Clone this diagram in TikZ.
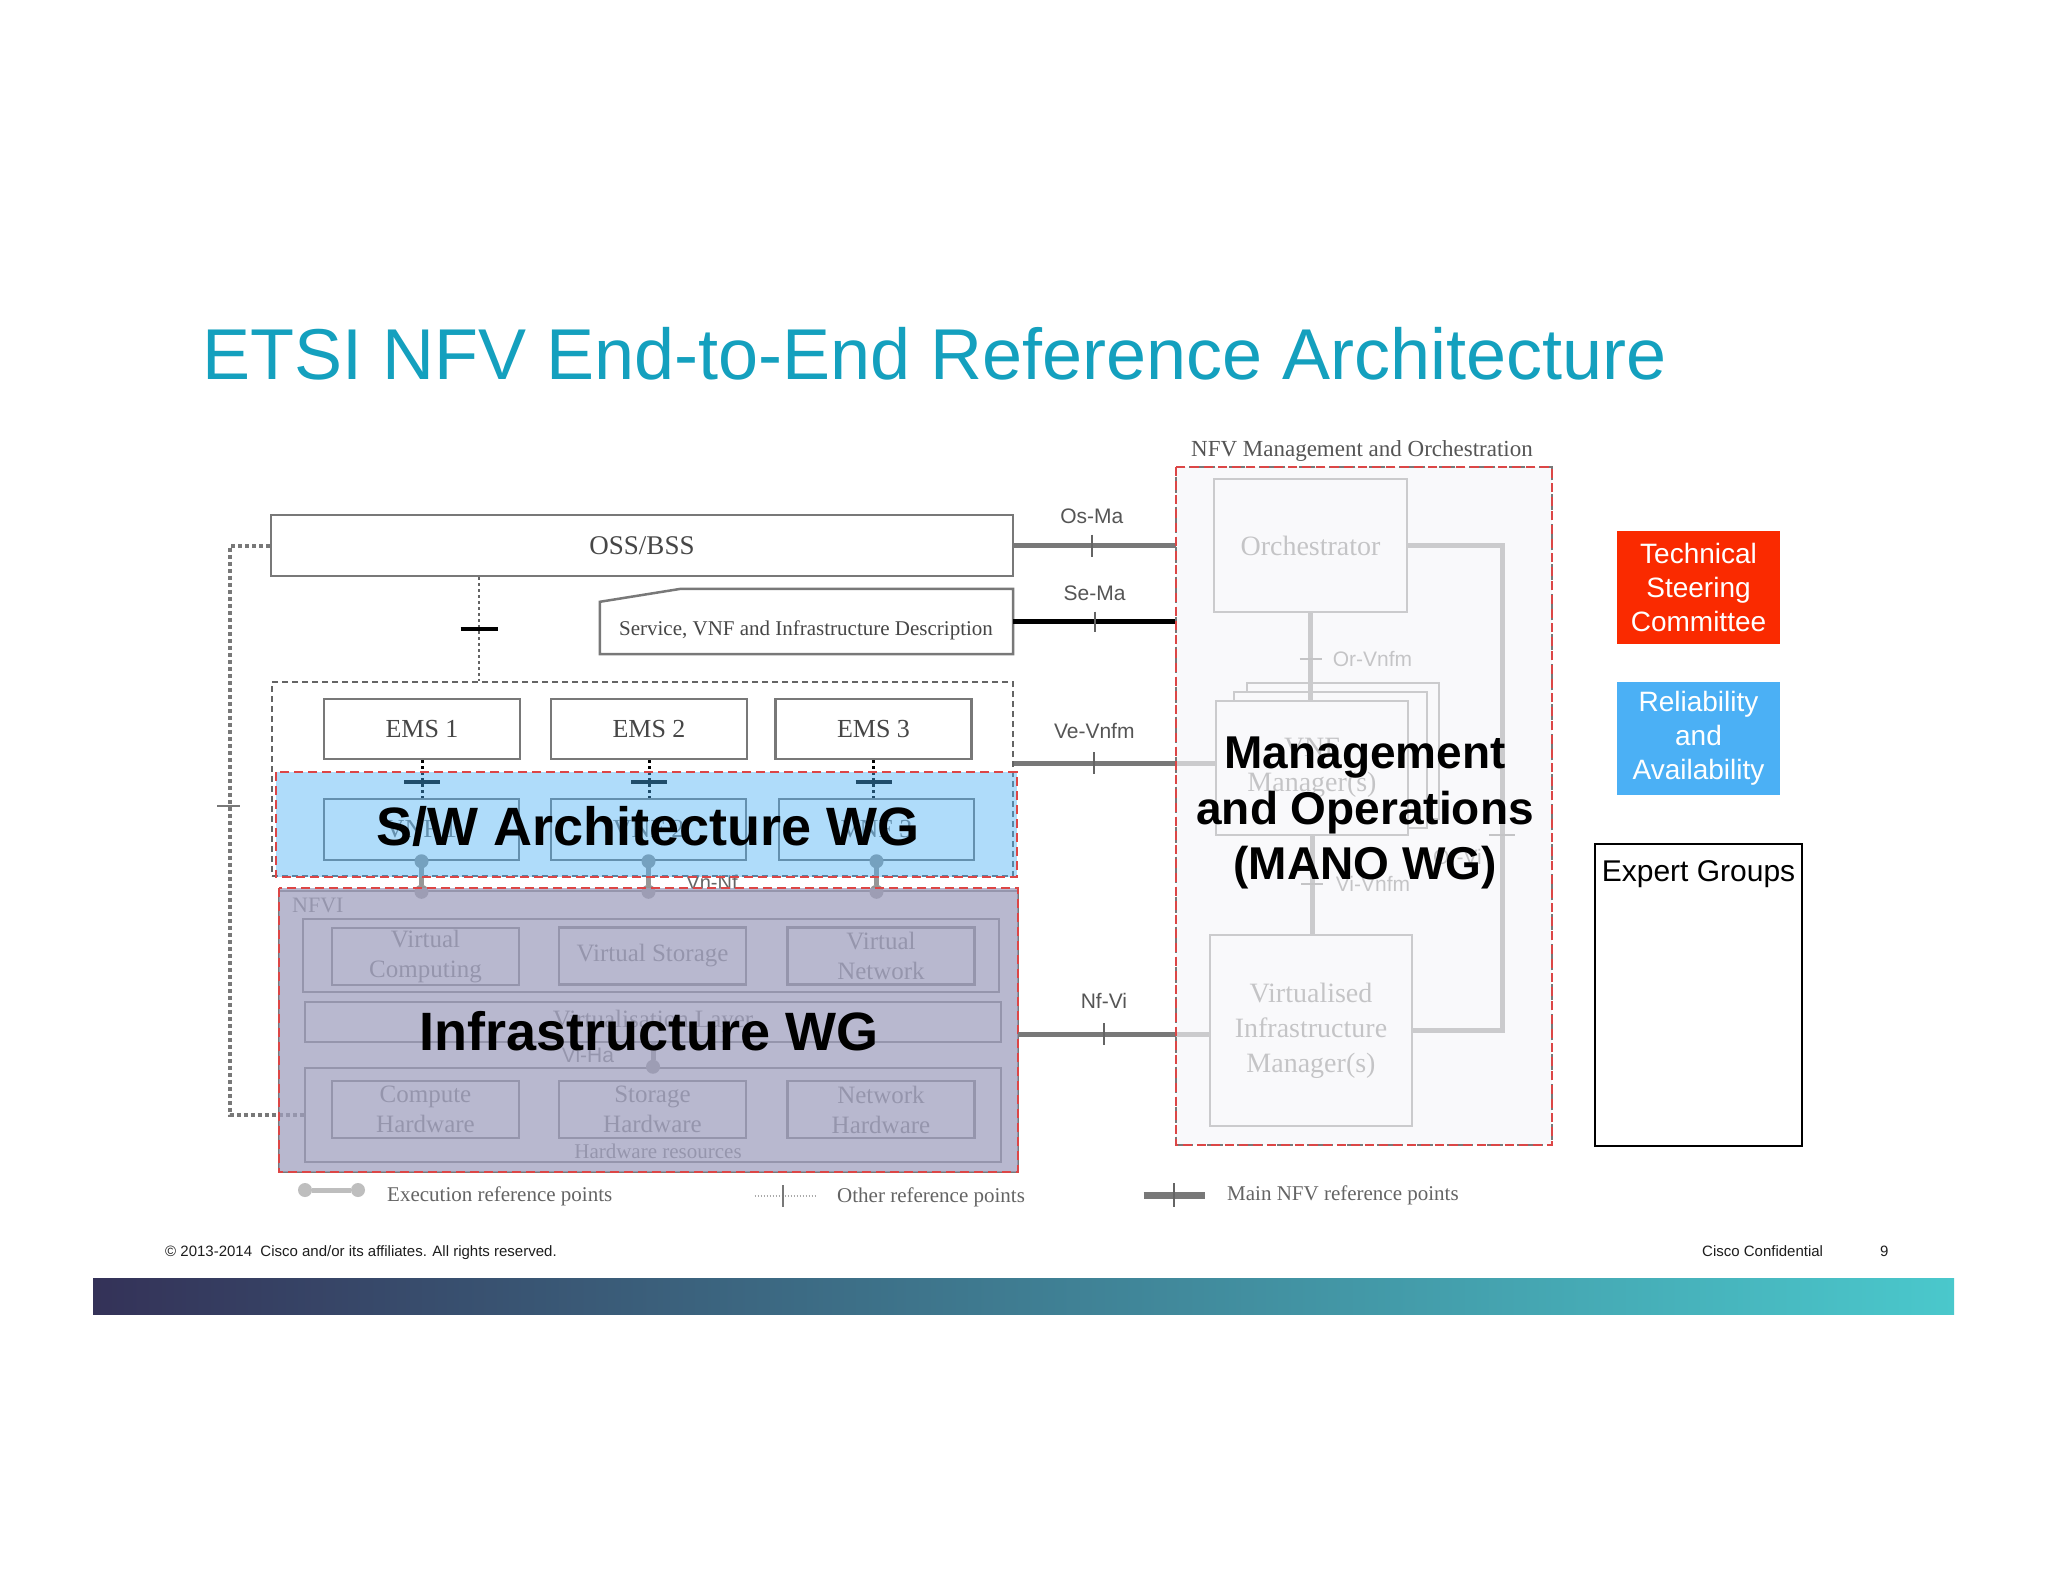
\documentclass[tikz,border=0pt]{standalone}
\usepackage{fontspec}
\setmainfont{Liberation Serif}
\newfontfamily\arialf{Liberation Sans}
\usetikzlibrary{calc}
\definecolor{titleblue}{RGB}{20,160,190}
\definecolor{g120}{RGB}{120,120,120}
\definecolor{g100}{RGB}{100,100,100}
\definecolor{g85}{RGB}{85,85,85}
\definecolor{g70}{RGB}{70,70,70}
\definecolor{g150}{RGB}{150,150,150}
\definecolor{g170}{RGB}{170,170,170}
\definecolor{g190}{RGB}{190,190,190}
\definecolor{reddashc}{RGB}{220,70,70}
\definecolor{swblue}{RGB}{75,176,244}
\definecolor{infrafill}{RGB}{160,160,191}
\definecolor{manofill}{RGB}{247,247,250}
\definecolor{tscred}{RGB}{250,42,0}
\definecolor{rablue}{RGB}{75,176,245}
\definecolor{barL}{RGB}{52,50,88}
\definecolor{barR}{RGB}{74,200,204}
\definecolor{foot}{RGB}{30,30,30}
\pgfdeclarehorizontalshading{barshade}{100bp}{color(0bp)=(barL); color(25bp)=(barL); color(75bp)=(barR); color(100bp)=(barR)}
\begin{document}
\begin{tikzpicture}[x=1pt,y=-1pt,
  sbox/.style={draw=g120, line width=2.5, fill=white, inner sep=0, text=g70},
  gbox/.style={draw=g120, line width=2.5, inner sep=0, text=g120, align=center,
    font=\fontsize{25}{30}\selectfont},
  mbox/.style={draw=g120, line width=2.5, fill=white, inner sep=0, text=g100, align=center,
    font=\fontsize{28}{35}\selectfont},
  region/.style={inner sep=0},
  execpt/.style={circle, fill=g150, inner sep=0, minimum size=14},
  execline/.style={g150, line width=5},
  mainline/.style={g120, line width=5},
  mline/.style={g120, line width=5},
  tickline/.style={g100, line width=2},
  reddash/.style={draw=reddashc, line width=2, dash pattern=on 9 off 5},
  reflab/.style={inner sep=0, text=g85, font=\arialf\fontsize{21}{25}\selectfont},
  legtext/.style={inner sep=0, anchor=west, text=g100, font=\fontsize{21}{25}\selectfont},
  bigwg/.style={inner sep=0, anchor=base, text=black, font=\arialf\bfseries\fontsize{54}{60}\selectfont},
  manowg/.style={inner sep=0, anchor=base, text=black, font=\arialf\bfseries\fontsize{46}{54}\selectfont},
  sidebox/.style={minimum width=163, minimum height=113, inner sep=0, text=white, align=center,
    font=\arialf\fontsize{28}{34}\selectfont},
  foottext/.style={inner sep=0, anchor=base west, text=foot, font=\arialf\fontsize{15}{18}\selectfont}
]
\useasboundingbox (0,0) rectangle (2048,1582);
\fill[white] (0,0) rectangle (2048,1582);

% title
\node[anchor=base west, inner sep=0, text=titleblue, font=\arialf\fontsize{72}{86}\selectfont] (title) at (202,379) {ETSI NFV End-to-End Reference Architecture};

% region nodes (invisible)
\node[region, minimum width=741, minimum height=105] (swwg) at (646.5,824.5) {};
\node[region, minimum width=739, minimum height=284] (nfvi) at (648.5,1030) {};
\node[region, minimum width=376, minimum height=678] (mano) at (1364,806) {};

% OSS/BSS and description
\node[sbox, minimum width=742, minimum height=61, font=\fontsize{27}{32}\selectfont] (oss) at (642,545.5) {OSS/BSS};
\node[region, minimum width=413, minimum height=65] (desc) at (806.5,621.5) {};
\draw[g120, line width=2.5, fill=white] (desc.south west) -- ([yshift=-13]desc.north west) -- ([xshift=81]desc.north west) -- (desc.north east) -- (desc.south east) -- cycle;
\node[inner sep=0, text=g70, font=\fontsize{21}{25}\selectfont] (desctext) at (806,630) {Service, VNF and Infrastructure Description};

% EMS area
\node[region, draw=g100, line width=2, dash pattern=on 6 off 4, minimum width=741, minimum height=194] (emsarea) at (642.5,779) {};
\node[sbox, minimum width=196, minimum height=60, font=\fontsize{26}{30}\selectfont] (ems1) at (422,729) {EMS 1};
\node[sbox, minimum width=196, minimum height=60, font=\fontsize{26}{30}\selectfont] (ems2) at (649,729) {EMS 2};
\node[sbox, minimum width=196, minimum height=60, font=\fontsize{26}{30}\selectfont] (ems3) at (873.5,729) {EMS 3};
\node[sbox, minimum width=195, minimum height=61, text=g120, font=\fontsize{26}{30}\selectfont] (vnf1) at (421.5,829.5) {VNF 1};
\node[sbox, minimum width=195, minimum height=61, text=g120, font=\fontsize{26}{30}\selectfont] (vnf2) at (648.5,829.5) {VNF 2};
\node[sbox, minimum width=195, minimum height=61, text=g120, font=\fontsize{26}{30}\selectfont] (vnf3) at (876.5,829.5) {VNF 3};

% OSS -> EMS area
\coordinate (ossx) at (479,0);
\draw[g100, line width=2, dash pattern=on 3 off 3] (oss.south -| ossx) -- coordinate[pos=0.5] (osst) (emsarea.north -| ossx);
\draw[black, line width=4] ([xshift=-18.5]osst) -- ([xshift=18.5]osst);

% EMS -> VNF
\foreach \i in {1,2,3} {
  \draw[black, line width=3, dash pattern=on 3 off 3] (ems\i.south) -- coordinate[pos=0.575] (et\i) (ems\i.south |- vnf\i.north);
  \draw[black, line width=4] ([xshift=-18]et\i) -- ([xshift=18]et\i);
}

% NFVI underlying drawing
\node[gbox, minimum width=739, minimum height=281] (nfviorig) at (648.5,1031.5) {};
\node[inner sep=0, anchor=west, text=g120, font=\fontsize{22}{26}\selectfont] (nfvilab) at (292,905) {NFVI};
\node[gbox, minimum width=696, minimum height=73] (vrow) at (651,955.5) {};
\node[gbox, minimum width=187, minimum height=57] (vc) at (425.5,956.5) {Virtual\\Computing};
\node[gbox, minimum width=187, minimum height=57] (vs) at (652.5,956) {Virtual Storage};
\node[gbox, minimum width=187, minimum height=57] (vn) at (881,956) {Virtual\\Network};
\node[gbox, minimum width=696, minimum height=40] (vlayer) at (653,1022) {Virtualisation Layer};
\node[gbox, minimum width=696, minimum height=94] (hw) at (653,1115) {};
\node[gbox, minimum width=187, minimum height=57] (ch) at (425.5,1109.5) {Compute\\Hardware};
\node[gbox, minimum width=187, minimum height=57] (sh) at (652.5,1109.5) {Storage\\Hardware};
\node[gbox, minimum width=187, minimum height=57] (nh) at (881,1109.5) {Network\\Hardware};
\node[inner sep=0, text=g120, font=\fontsize{21}{25}\selectfont] (hwres) at (658,1151) {Hardware resources};
\node[execpt] (viha) at (vlayer.south |- hw.north) {};
\draw[execline] (vlayer.south) -- (viha);
\node[inner sep=0, text=g120, font=\arialf\fontsize{21}{25}\selectfont] (vihalab) at (588,1055) {Vi-Ha};
\node[inner sep=0, text=g100, font=\arialf\fontsize{20}{24}\selectfont] (vnnf) at (712,882) {Vn-Nf};

% execution points VNF -> NFVI
\foreach \i in {1,2,3} {
  \node[execpt] (xa\i) at (vnf\i.south) {};
  \node[execpt] (xb\i) at ([yshift=-4]vnf\i.south |- nfvi.north) {};
  \draw[execline] (xa\i) -- (xb\i);
}

% left loop
\coordinate (lx) at (230,0);
\draw[g120, line width=4, dash pattern=on 4 off 3] (oss.west) -- (oss.west -| lx) -- coordinate[pos=0.457] (lt) (hw.west -| lx) -- (hw.west);
\draw[g120, line width=1.5] ([xshift=-13]lt) -- ([xshift=10]lt);

% overlays S/W and NFVI
\fill[swblue, opacity=0.44] (swwg.north west) rectangle (swwg.south east);
\draw[reddash] (swwg.north west) rectangle (swwg.south east);
\fill[infrafill, opacity=0.74] (nfvi.north west) rectangle (nfvi.south east);
\draw[reddash] (nfvi.north west) rectangle (nfvi.south east);

% MANO underlying
\node[mbox, minimum width=193, minimum height=133] (orch) at (1310.5,545.5) {Orchestrator};
\node[mbox, minimum width=192, minimum height=136] (vnfmc) at (1343,751) {};
\node[mbox, minimum width=193, minimum height=136] (vnfmb) at (1330.5,760) {};
\node[mbox, minimum width=192, minimum height=134] (vnfm) at (1312,768) {VNF\\Manager(s)};
\node[mbox, minimum width=202, minimum height=191] (vim) at (1311,1030.5) {Virtualised\\Infrastructure\\Manager(s)};

\draw[mline] (orch.south) -- coordinate[pos=0.53] (ortick) (orch.south |- vnfm.north);
\draw[tickline] ([xshift=-11]ortick) -- ([xshift=11]ortick);
\node[reflab, text=g100] (orvnfm) at ([xshift=62]ortick) {Or-Vnfm};
\draw[mline] (vnfm.south) -- coordinate[pos=0.49] (vitick) (vnfm.south |- vim.north);
\draw[tickline] ([xshift=-11]vitick) -- ([xshift=11]vitick);
\node[reflab, text=g100] (vivnfm) at ([xshift=61]vitick) {Vi-Vnfm};
\coordinate (rx) at (1502,0);
\draw[mline] (orch.east) -- (orch.east -| rx) -- coordinate[pos=0.597] (orvi) (vim.east -| rx) -- (vim.east);
\draw[tickline] ([xshift=-13]orvi) -- ([xshift=13]orvi);
\node[reflab, text=g100, anchor=east] (orvilab) at ([xshift=-20,yshift=-22]orvi) {Or-Vi};

% main reference points
\draw[mainline] (oss.east) -- coordinate[pos=0.48] (osmt) (oss.east -| mano.west);
\draw[tickline] ([yshift=11]osmt) -- ([yshift=-11]osmt);
\node[reflab] (osma) at ([yshift=29]osmt) {Os-Ma};
\draw[mainline, black] (desc.east) -- coordinate[pos=0.5] (semt) (desc.east -| mano.west);
\draw[tickline] ([yshift=10]semt) -- ([yshift=-10]semt);
\node[reflab] (sema) at ([yshift=28]semt) {Se-Ma};
\coordinate (vev) at ([yshift=5]vnfm.west);
\draw[mainline] (emsarea.east |- vev) -- coordinate[pos=0.40] (vevt) (vev);
\draw[tickline] ([yshift=11]vevt) -- ([yshift=-11]vevt);
\node[reflab] (vevnfm) at ([yshift=32]vevt) {Ve-Vnfm};
\coordinate (nfv) at ([yshift=-3.5]vim.west);
\draw[mainline] (nfvi.east |- nfv) -- coordinate[pos=0.45] (nfvt) (nfv);
\draw[tickline] ([yshift=11]nfvt) -- ([yshift=-11]nfvt);
\node[reflab] (nfvilab2) at ([yshift=33]nfvt) {Nf-Vi};

% MANO overlay
\fill[manofill, opacity=0.66] (mano.north west) rectangle (mano.south east);
\draw[g120, line width=2, dash pattern=on 6 off 4] (mano.north west) rectangle (mano.south east);
\draw[reddash] (mano.north west) rectangle (mano.south east);
\node[inner sep=0, text=g85, font=\fontsize{23}{27}\selectfont] (manolab) at (1362,451) {NFV Management and Orchestration};

% big WG texts
\node[bigwg] (swtext) at (648,845) {S/W Architecture WG};
\node[bigwg] (inftext) at (649,1050) {Infrastructure WG};
\node[manowg] (m1) at (1365,768) {Management};
\node[manowg] (m2) at (1365,824) {and Operations};
\node[manowg] (m3) at (1365,879) {(MANO WG)};

% right side
\node[sidebox, fill=tscred] (tsc) at (1698.5,587.5) {Technical\\Steering\\Committee};
\node[sidebox, fill=rablue] (ra) at (1698.5,738.5) {Reliability\\and\\Availability};
\node[draw=black, line width=2.5, minimum width=207, minimum height=302, inner sep=0] (eg) at (1698.5,995) {};
\node[inner sep=0, anchor=base, text=black, font=\arialf\fontsize{30}{36}\selectfont] (egt) at (1698.5,881) {Expert Groups};

% legend
\node[execpt, fill=g190] (lg1a) at (305,1190) {};
\node[execpt, fill=g190] (lg1b) at (358,1190) {};
\draw[execline, g190] (lg1a) -- (lg1b);
\node[legtext] (lg1t) at (387,1196) {Execution reference points};
\node[inner sep=0] (lg2a) at (754,1196) {};
\node[inner sep=0] (lg2b) at (818,1196) {};
\draw[g170, line width=1.5, dash pattern=on 1.5 off 1.5] (lg2a) -- coordinate[pos=0.45] (lg2m) (lg2b);
\draw[g120, line width=1.5] ([yshift=11]lg2m) -- ([yshift=-11]lg2m);
\node[legtext] (lg2t) at (837,1197) {Other reference points};
\node[inner sep=0] (lg3a) at (1143,1195) {};
\node[inner sep=0] (lg3b) at (1206,1195) {};
\draw[mainline, line width=7] (lg3a) -- coordinate[pos=0.49] (lg3m) (lg3b);
\draw[g100, line width=2] ([yshift=12]lg3m) -- ([yshift=-12]lg3m);
\node[legtext] (lg3t) at (1227,1195) {Main NFV reference points};

% footer
\node[foottext] (copy) at (165,1256) {© 2013-2014\ \ Cisco and/or its affiliates. All rights reserved.};
\node[foottext] (conf) at (1702,1256) {Cisco Confidential};
\node[foottext] (pg) at (1880,1256) {9};
\shade[shading=barshade] (93,1278) rectangle (1954,1314);
\end{tikzpicture}
\end{document}
